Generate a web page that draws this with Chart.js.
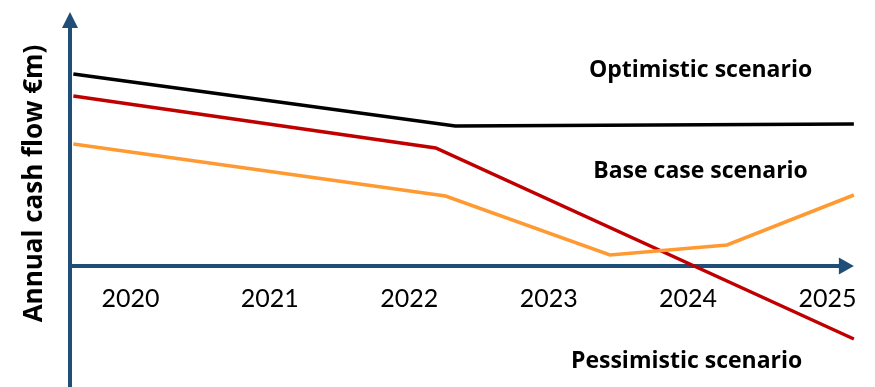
<!DOCTYPE html>
<html>
<head>
<meta charset="utf-8">
<script src="https://cdn.jsdelivr.net/npm/chart.js@4.4.1/dist/chart.umd.min.js"></script>
<style>
  html, body { margin: 0; padding: 0; background: #fff; }
  #wrap { width: 875px; height: 387px; }
</style>
</head>
<body>
<div id="wrap"><canvas id="cashChart"></canvas></div>
<script>
// years on the x axis (linear scale so the kinks can sit between years)
const years = [2020, 2021, 2022, 2023, 2024, 2025];
const scenarioNames = ["Optimistic scenario", "Base case scenario", "Pessimistic scenario"];

// annual cash flow (€m)
const optimisticX = [2019.59, 2022.33, 2025.19];
const optimisticY = [19.2, 14.0, 14.2];
const baseX = [2019.59, 2022.26, 2023.44, 2024.28, 2025.19];
const baseY = [12.2, 7.0, 1.1, 2.1, 7.1];
const pessimisticX = [2019.59, 2022.19, 2025.19];
const pessimisticY = [17.0, 11.8, -7.3];

const axisBlue = "#1F4E79";
const fontFamily = "Lato, 'Open Sans', sans-serif";
const boldFamily = "'Open Sans', Lato, sans-serif";

function toPoints(xs, ys) {
  return xs.map((x, i) => ({ x: x, y: ys[i] }));
}

// axis lines with arrow heads, drawn under the lines
const arrowAxes = {
  id: "arrowAxes",
  beforeDatasetsDraw(chart) {
    const { ctx, chartArea, scales } = chart;
    const x0 = chartArea.left;
    const y0 = scales.y.getPixelForValue(0);
    ctx.save();
    ctx.strokeStyle = axisBlue;
    ctx.fillStyle = axisBlue;
    ctx.lineWidth = 4;
    // y axis
    ctx.beginPath();
    ctx.moveTo(x0, chart.height);
    ctx.lineTo(x0, chartArea.top + 14);
    ctx.stroke();
    ctx.beginPath();
    ctx.moveTo(x0, chartArea.top);
    ctx.lineTo(x0 - 8, chartArea.top + 16);
    ctx.lineTo(x0 + 8, chartArea.top + 16);
    ctx.closePath();
    ctx.fill();
    // x axis
    ctx.beginPath();
    ctx.moveTo(x0, y0);
    ctx.lineTo(chartArea.right - 14, y0);
    ctx.stroke();
    ctx.beginPath();
    ctx.moveTo(chartArea.right, y0);
    ctx.lineTo(chartArea.right - 15, y0 - 8.5);
    ctx.lineTo(chartArea.right - 15, y0 + 8.5);
    ctx.closePath();
    ctx.fill();
    ctx.restore();
  },
  afterDraw(chart) {
    const { ctx, scales } = chart;
    const spots = [[2024.09, 19.6], [2024.09, 9.45], [2023.99, -9.55]];
    ctx.save();
    ctx.fillStyle = "#000";
    ctx.font = "bold 23px " + boldFamily;
    ctx.textAlign = "center";
    ctx.textBaseline = "middle";
    scenarioNames.forEach((name, i) => {
      ctx.fillText(name, scales.x.getPixelForValue(spots[i][0]), scales.y.getPixelForValue(spots[i][1]));
    });
    ctx.restore();
  },
};

const ctx = document.getElementById("cashChart").getContext("2d");

new Chart(ctx, {
  type: "line",
  data: {
    datasets: [
      {
        label: scenarioNames[0],
        data: toPoints(optimisticX, optimisticY),
        borderColor: "#000000",
        borderWidth: 3.5,
        pointRadius: 0,
        tension: 0,
        clip: false,
      },
      {
        label: scenarioNames[1],
        data: toPoints(baseX, baseY),
        borderColor: "#FF9A33",
        borderWidth: 3.5,
        pointRadius: 0,
        tension: 0,
        clip: false,
      },
      {
        label: scenarioNames[2],
        data: toPoints(pessimisticX, pessimisticY),
        borderColor: "#C00000",
        borderWidth: 3.5,
        pointRadius: 0,
        tension: 0,
        clip: false,
      },
    ],
  },
  options: {
    responsive: true,
    maintainAspectRatio: false,
    animation: false,
    layout: { padding: { top: 12, right: 18, bottom: 32, left: 0 } },
    plugins: {
      legend: { display: false },
      tooltip: { enabled: false },
    },
    scales: {
      x: {
        type: "linear",
        position: { y: 0 },
        min: 2019.566,
        max: 2025.19,
        grid: { display: false, drawTicks: false },
        border: { display: false },
        afterFit: (s) => { s.height = 0; },
        afterBuildTicks: (s) => { s.ticks = years.map((v) => ({ value: v })); },
        ticks: {
          autoSkip: false,
          maxRotation: 0,
          padding: 18,
          color: "#000",
          font: { family: fontFamily, size: 25 },
          callback: (v) => String(v),
        },
      },
      y: {
        min: -8.9,
        max: 25.4,
        grid: { display: false },
        border: { display: false },
        ticks: { display: false },
        afterFit: (s) => { s.width = 70; },
        title: {
          display: true,
          text: "Annual cash flow €m)",
          color: "#000",
          font: { family: boldFamily, size: 26, weight: "bold" },
          padding: { top: 19, bottom: 0 },
        },
      },
    },
  },
  plugins: [arrowAxes],
});
</script>
</body>
</html>
